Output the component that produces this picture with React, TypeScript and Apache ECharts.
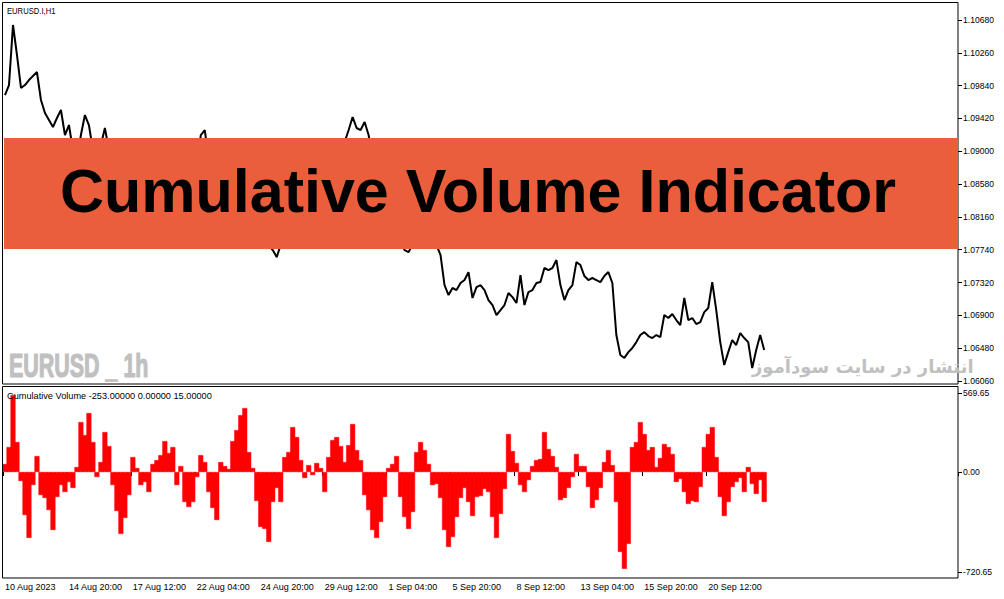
import React, { useEffect, useRef } from "react";
import * as echarts from "echarts";

// Hourly closes read from the upper (price) pane, one value per ~4px column
const PRICE: number[] = [
  1.0972, 1.09848, 1.10616, 1.10232, 1.0981, 1.09848, 1.09912, 1.09963, 1.10014, 1.09656,
  1.0949, 1.094, 1.0931, 1.09426, 1.09528, 1.09208, 1.09336, 1.09016, 1.08888, 1.09208,
  1.09464, 1.09336, 1.09016, 1.08888, 1.0908, 1.09298, 1.09016, 1.0876, 1.08568, 1.08376,
  1.08632, 1.08888, 1.09144, 1.08952, 1.08696, 1.08504, 1.08312, 1.08568, 1.0876, 1.08824,
  1.08696, 1.08888, 1.0876, 1.08504, 1.08632, 1.0844, 1.08248, 1.08504, 1.08824, 1.09208,
  1.09272, 1.08888, 1.08568, 1.08248, 1.08376, 1.0844, 1.08504, 1.08696, 1.0876, 1.08888,
  1.08824, 1.08568, 1.08312, 1.0812, 1.07928, 1.07864, 1.078, 1.07736, 1.07646, 1.078,
  1.07992, 1.08184, 1.08376, 1.08504, 1.08312, 1.08248, 1.08376, 1.0844, 1.08376, 1.08568,
  1.08504, 1.08696, 1.08824, 1.08888, 1.09016, 1.09118, 1.09272, 1.09438, 1.09298, 1.09272,
  1.09374, 1.09208, 1.08888, 1.08568, 1.08312, 1.08184, 1.08248, 1.08056, 1.07928, 1.07864,
  1.07736, 1.0771, 1.078, 1.07928, 1.0789, 1.07992, 1.0789, 1.07838, 1.078, 1.07672,
  1.07288, 1.0716, 1.0725, 1.07224, 1.07314, 1.07352, 1.07454, 1.07122, 1.07262, 1.07288,
  1.07224, 1.07096, 1.07032, 1.06904, 1.06968, 1.07032, 1.07186, 1.07134, 1.07058, 1.07416,
  1.07032, 1.07198, 1.07224, 1.07314, 1.07326, 1.07506, 1.0748, 1.07506, 1.07608, 1.07288,
  1.07096, 1.07224, 1.07288, 1.07582, 1.07544, 1.07403, 1.07352, 1.07378, 1.07352, 1.07326,
  1.07403, 1.07454, 1.07314, 1.06648, 1.06392, 1.06354, 1.0643, 1.06482, 1.06558, 1.06648,
  1.06686, 1.06635, 1.0661, 1.06648, 1.06622, 1.06904, 1.06866, 1.06917, 1.0684, 1.06776,
  1.07122, 1.0684, 1.06866, 1.06789, 1.06814, 1.06942, 1.06994, 1.07326, 1.06968, 1.06558,
  1.06264, 1.0643, 1.06584, 1.0652, 1.06674, 1.0661, 1.06558, 1.06226, 1.06456, 1.06648,
  1.06456,
];

// Cumulative Volume histogram values
const CUM_VOL: number[] = [
  58, 180, 554, 216, -65, -310, -475, -94, 115, -166,
  -187, -274, -418, -180, -94, -144, -72, -115, 36, 360,
  266, 425, 216, -36, 72, 288, 187, -94, -281, -446,
  -331, -166, 108, 29, -94, -72, -144, 58, 86, 122,
  223, 137, 180, -94, 43, -216, -252, -216, -36, 122,
  72, -144, -259, -346, 72, 43, 22, 223, 302, 410,
  461, 144, 29, -209, -396, -410, -504, -216, -115, -216,
  108, 144, 324, 252, 86, -43, 50, -22, 65, 29,
  -144, 108, 230, 252, 187, 72, 194, 346, 158, 86,
  -166, -274, -418, -475, -360, -180, 29, 58, 115, -180,
  -324, -410, -288, 144, 216, 158, 58, -94, -86, -187,
  -418, -540, -468, -324, -187, -115, -216, -317, -180, -173,
  -122, -144, -324, -475, -302, -122, 274, 151, 65, -94,
  -144, -58, 43, 86, 94, 288, 166, 115, 36, -202,
  -187, -115, -36, 130, 43, 43, -108, -259, -202, -115,
  72, 158, 50, -216, -576, -698, -518, 180, 216, 360,
  274, 158, 180, 36, 101, 202, 180, 130, -72, -50,
  -144, -230, -209, -216, -108, 180, 274, 324, 108, -180,
  -317, -216, -108, -72, -43, -144, 36, -86, -158, -58,
  -216,
];

const TIME_LABELS: string[] = [
  "10 Aug 2023", "14 Aug 20:00", "17 Aug 12:00", "22 Aug 04:00", "24 Aug 20:00", "29 Aug 12:00",
  "1 Sep 04:00", "5 Sep 20:00", "8 Sep 12:00", "13 Sep 04:00", "15 Sep 20:00", "20 Sep 12:00",
];

const PRICE_TICKS: number[] = [
  1.0606, 1.0648, 1.069, 1.0732, 1.0774, 1.0816, 1.0858, 1.09, 1.0942, 1.0984, 1.1026, 1.1068,
];
const VOL_TICKS: number[] = [-720.65, 0, 569.65];

const TOTAL_SLOTS = 239;
const LABEL_EVERY = 16;

const SMALL_FONT = "'Liberation Sans', Arial, sans-serif";

export default function App() {
  const ref = useRef<HTMLDivElement>(null);

  useEffect(() => {
    if (!ref.current) return;
    const chart = echarts.init(ref.current, null, { renderer: "svg" });

    const cats = Array.from({ length: TOTAL_SLOTS }, (_, i) =>
      i % LABEL_EVERY === 0 && i / LABEL_EVERY < TIME_LABELS.length ? TIME_LABELS[i / LABEL_EVERY] : ""
    );
    const showIdx = (i: number) => i % LABEL_EVERY === 0 && i / LABEL_EVERY < TIME_LABELS.length;

    chart.setOption({
      animation: false,
      backgroundColor: "#ffffff",
      grid: [
        { left: 3, top: 20, width: 955, height: 361, outerBoundsMode: "none" },
        { left: 3, top: 393, width: 955, height: 179, outerBoundsMode: "none" },
      ],
      xAxis: [
        { type: "category", gridIndex: 0, data: cats, boundaryGap: true, show: false },
        {
          type: "category",
          gridIndex: 1,
          data: cats,
          boundaryGap: true,
          offset: 6,
          axisLine: { show: false },
          axisTick: { show: true, length: 4, interval: showIdx, lineStyle: { color: "#000" } },
          axisLabel: {
            color: "#000",
            fontSize: 9,
            fontFamily: SMALL_FONT,
            interval: showIdx,
            align: "left",
            margin: 4,
          },
          splitLine: { show: false },
        },
      ],
      yAxis: [
        {
          type: "value",
          gridIndex: 0,
          position: "right",
          min: 1.0606,
          max: 1.1068,
          axisLine: { show: false },
          splitLine: { show: false },
          axisTick: { show: true, length: 4, customValues: PRICE_TICKS, lineStyle: { color: "#000" } },
          axisLabel: {
            color: "#000",
            fontSize: 8.6,
            fontFamily: SMALL_FONT,
            customValues: PRICE_TICKS,
            margin: 5,
            formatter: (v: number) => v.toFixed(5),
          },
        },
        {
          type: "value",
          gridIndex: 1,
          position: "right",
          min: -720.65,
          max: 569.65,
          axisLine: { show: false },
          splitLine: { show: false },
          axisTick: { show: true, length: 4, customValues: VOL_TICKS, lineStyle: { color: "#000" } },
          axisLabel: {
            color: "#000",
            fontSize: 8.6,
            fontFamily: SMALL_FONT,
            customValues: VOL_TICKS,
            margin: 5,
            formatter: (v: number) => v.toFixed(2),
          },
        },
      ],
      series: [
        {
          type: "line",
          xAxisIndex: 0,
          yAxisIndex: 0,
          data: PRICE,
          showSymbol: false,
          symbol: "none",
          lineStyle: { color: "#000", width: 2 },
          z: 2,
        },
        {
          type: "bar",
          xAxisIndex: 1,
          yAxisIndex: 1,
          data: CUM_VOL,
          barWidth: 5,
          barGap: "0%",
          itemStyle: { color: "#ff0000", borderColor: "#ff0000", borderWidth: 0.5 },
        },
      ],
      graphic: [
        {
          type: "rect",
          z: 100,
          shape: { x: 2.5, y: 2.5, width: 955.5, height: 381.5 },
          style: { fill: "none", stroke: "#000", lineWidth: 1 },
        },
        {
          type: "rect",
          z: 100,
          shape: { x: 2.5, y: 386.5, width: 955.5, height: 191.5 },
          style: { fill: "none", stroke: "#000", lineWidth: 1 },
        },
        {
          type: "text",
          z: 101,
          x: 7,
          y: 11,
          scaleX: 0.85,
          style: { text: "EURUSD.I,H1", fill: "#000", fontSize: 9, fontFamily: SMALL_FONT, align: "left", verticalAlign: "middle" },
        },
        {
          type: "text",
          z: 101,
          x: 7,
          y: 396,
          style: {
            text: "Cumulative Volume -253.00000 0.00000 15.00000",
            fill: "#000",
            fontSize: 9.2,
            fontFamily: SMALL_FONT,
            align: "left",
            verticalAlign: "middle",
          },
        },
        {
          type: "text",
          z: 101,
          x: 9,
          y: 366,
          scaleX: 0.65,
          style: {
            text: "EURUSD _ 1h",
            fill: "#c0c0c0",
            stroke: "#c0c0c0",
            lineWidth: 1.2,
            fontSize: 33,
            fontWeight: "bold",
            fontFamily: "'Liberation Sans', Arial, sans-serif",
            align: "left",
            verticalAlign: "middle",
          },
        },
        {
          type: "text",
          z: 101,
          x: 752,
          y: 366,
          style: {
            text: "انتشار در سایت سودآموز",
            fill: "#c0c0c0",
            fontSize: 18,
            fontWeight: "bold",
            fontFamily: "'DejaVu Sans', sans-serif",
            align: "left",
            verticalAlign: "middle",
          },
        },
        {
          type: "rect",
          z: 110,
          shape: { x: 4, y: 138, width: 954, height: 111 },
          style: { fill: "#ea5e3b" },
        },
        {
          type: "text",
          z: 111,
          x: 478,
          y: 191,
          style: {
            text: "Cumulative Volume Indicator",
            fill: "#000",
            fontSize: 61,
            fontWeight: "bold",
            fontFamily: "'Liberation Sans', Arial, sans-serif",
            align: "center",
            verticalAlign: "middle",
          },
        },
      ],
    });

    return () => chart.dispose();
  }, []);

  return (
    <div
      ref={ref}
      style={{ position: "fixed", left: 0, top: 0, width: 1004, height: 599, background: "#fff" }}
    />
  );
}
